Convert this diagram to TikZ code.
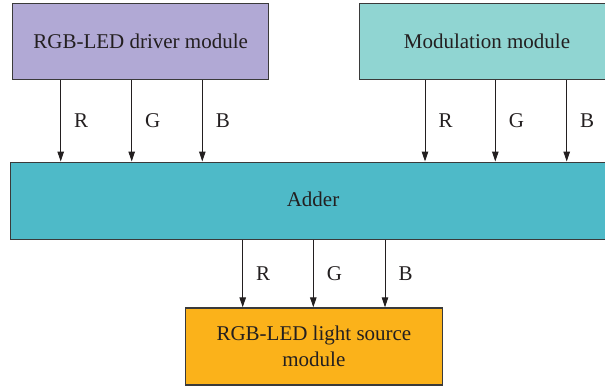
\documentclass[tikz,border=0pt]{standalone}
\usepackage{fontspec}
\setmainfont{Liberation Serif}
\usetikzlibrary{arrows.meta}
\definecolor{drvfill}{HTML}{B1A9D5}
\definecolor{modfill}{HTML}{90D5D2}
\definecolor{addfill}{HTML}{4EBAC8}
\definecolor{ledfill}{HTML}{FBB21A}
\definecolor{ink}{HTML}{231F20}
\definecolor{edge}{HTML}{3A3A3A}
\tikzset{
  block/.style={draw=edge, line width=1.3pt, anchor=north west, inner sep=0pt,
    text=ink, align=center, font=\fontsize{21}{26}\selectfont},
  caption/.style={text=ink, font=\fontsize{21}{26}\selectfont},
  sig/.style={draw=ink, line width=1pt, -{Triangle[length=10pt,width=6.5pt]}},
  siglabel/.style={midway, anchor=west, inner sep=0pt, xshift=13pt, text=ink,
    font=\fontsize{21}{24}\selectfont}
}
\begin{document}
\begin{tikzpicture}[x=1pt,y=-1pt]
  \clip (0,0) rectangle (605,389);
  % blocks
  \node[block, fill=drvfill, minimum width=256pt, minimum height=76pt] (drv) at (12,3) {RGB-LED driver module};
  \node[block, fill=modfill, minimum width=256pt, minimum height=76pt] (mod) at (358.5,3) {};
  \node[caption] (modtxt) at (487,41) {Modulation module};
  \node[block, fill=addfill, minimum width=610pt, minimum height=77pt] (add) at (10,161.5) {};
  \node[caption] (addtxt) at (313,199) {Adder};
  \node[block, fill=ledfill, minimum width=256.5pt, minimum height=77pt] (led) at (185,307.3) {RGB-LED light source\\module};
  % connector columns
  \coordinate (c1) at (60.7,0);
  \coordinate (c2) at (131.7,0);
  \coordinate (c3) at (202.3,0);
  \coordinate (c4) at (425,0);
  \coordinate (c5) at (495.3,0);
  \coordinate (c6) at (566.7,0);
  \coordinate (c7) at (242.7,0);
  \coordinate (c8) at (313.3,0);
  \coordinate (c9) at (385,0);
  % signals
  \draw[sig] (drv.south -| c1) -- (add.north -| c1) node[siglabel] {R};
  \draw[sig] (drv.south -| c2) -- (add.north -| c2) node[siglabel] {G};
  \draw[sig] (drv.south -| c3) -- (add.north -| c3) node[siglabel] {B};
  \draw[sig] (mod.south -| c4) -- (add.north -| c4) node[siglabel] {R};
  \draw[sig] (mod.south -| c5) -- (add.north -| c5) node[siglabel] {G};
  \draw[sig] (mod.south -| c6) -- (add.north -| c6) node[siglabel] {B};
  \draw[sig] (add.south -| c7) -- (led.north -| c7) node[siglabel] {R};
  \draw[sig] (add.south -| c8) -- (led.north -| c8) node[siglabel] {G};
  \draw[sig] (add.south -| c9) -- (led.north -| c9) node[siglabel] {B};
\end{tikzpicture}
\end{document}
